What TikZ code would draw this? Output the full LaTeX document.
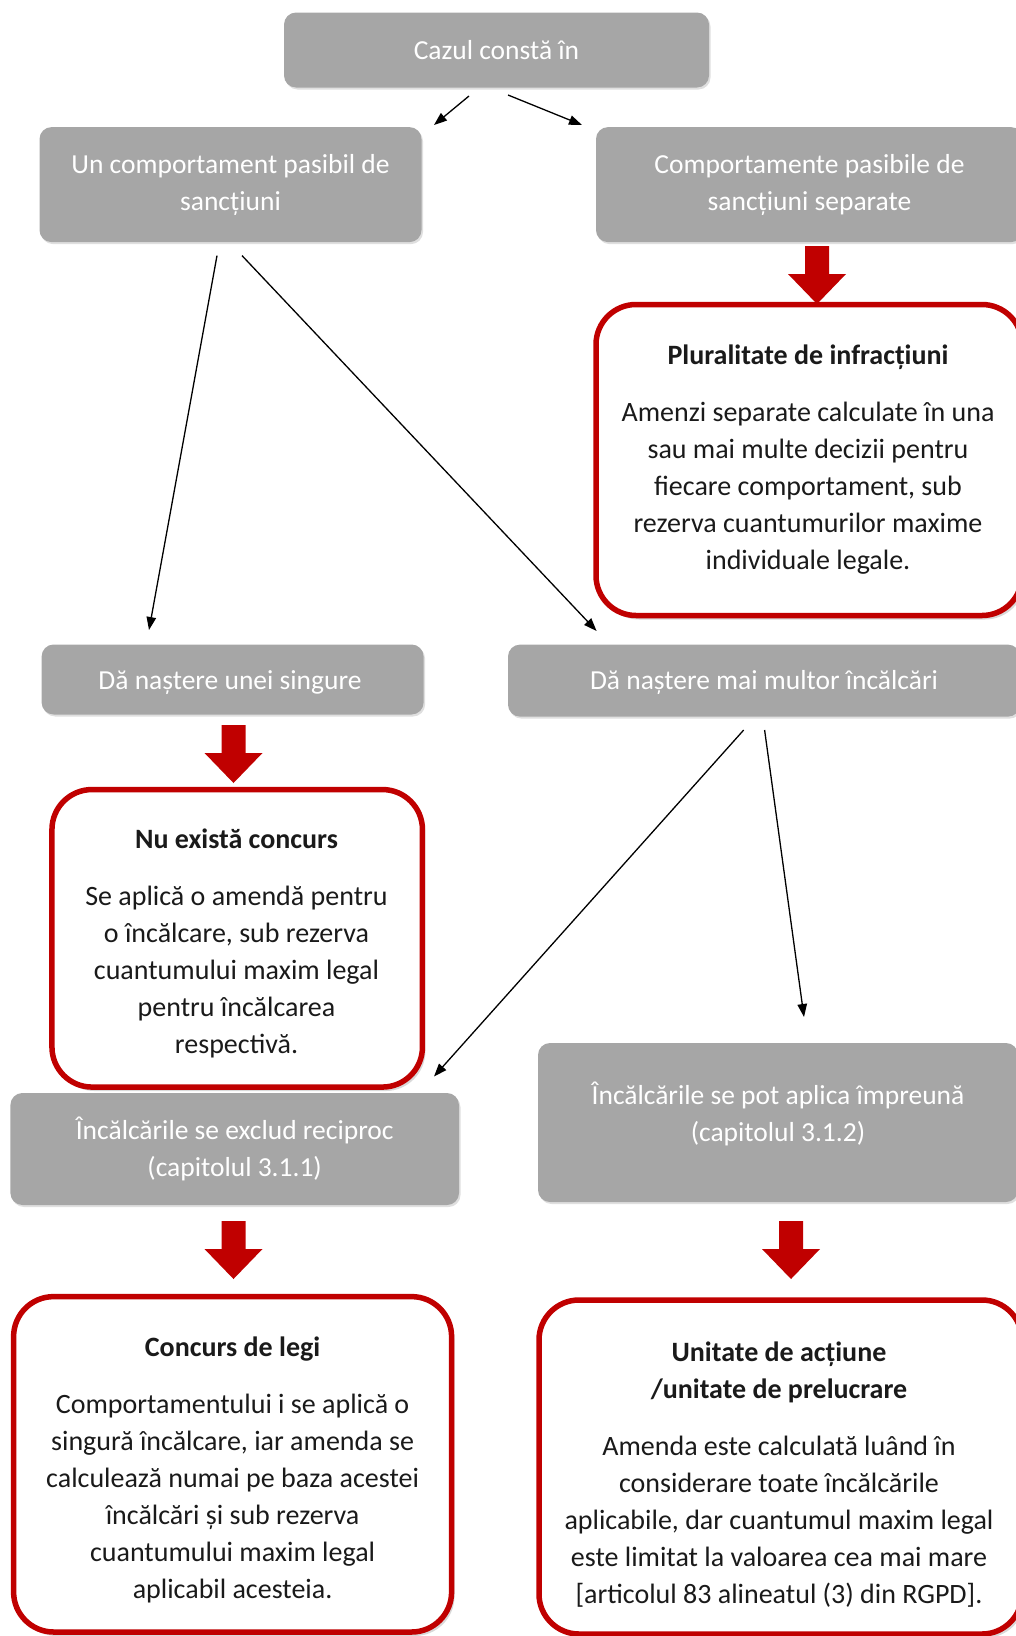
\documentclass[tikz,border=0pt]{standalone}
\usepackage{fontspec}
\setmainfont{Carlito}
\usetikzlibrary{arrows.meta,shadows}
\definecolor{boxgray}{HTML}{A6A6A6}
\definecolor{dred}{HTML}{C00000}
\definecolor{txt}{HTML}{1A1A1A}
\begin{document}
\begin{tikzpicture}[x=1pt,y=-1pt,
  graybox/.style={rectangle, rounded corners=12pt, fill=boxgray, text=white, align=center,
    font=\fontsize{27.5}{37}\selectfont, inner sep=0pt,
    drop shadow={shadow xshift=1.5pt, shadow yshift=-2pt, opacity=0.25}},
  graytext/.style={text=white, align=center, font=\fontsize{27.5}{37}\selectfont, inner sep=0pt},
  redbox/.style={rectangle, rounded corners=40pt, draw=dred, line width=5.5pt, fill=white,
    inner sep=0pt, drop shadow={shadow xshift=3pt, shadow yshift=-4pt, opacity=0.3}},
  redtext/.style={text=txt, align=center, font=\fontsize{28}{37}\selectfont, inner sep=0pt},
  conn/.style={-{Triangle[length=13pt,width=9.5pt]}, line width=1.3pt, black},
  redarr/.pic={\fill[dred] (-12,0) -- (12,0) -- (12,28) -- (29,28) -- (0,58) -- (-29,28) -- (-12,28) -- cycle;}
]
\useasboundingbox (0,0) rectangle (1016,1636);

% gray boxes
\node[graybox, minimum width=425pt, minimum height=75pt] (A) at (496.5,50) {Cazul constă în};
\node[graybox, minimum width=382pt, minimum height=115pt] (B) at (230.5,184.6) {Un comportament pasibil de\\sancțiuni};
\node[graybox, minimum width=427pt, minimum height=115pt] (C) at (809.5,184.6) {Comportamente pasibile de\\sancțiuni separate};
\node[graybox, minimum width=382pt, minimum height=70pt] (E) at (232.6,679.5) {};
\node[graytext] (Etxt) at (230,682.5) {Dă naștere unei singure};
\node[graybox, minimum width=512pt, minimum height=72pt] (F) at (764,680.6) {};
\node[graytext] (Ftxt) at (764,682.6) {Dă naștere mai multor încălcări};
\node[graybox, minimum width=448.6pt, minimum height=112pt] (H) at (234.7,1149) {Încălcările se exclud reciproc\\(capitolul 3.1.1)};
\node[graybox, minimum width=480pt, minimum height=159pt] (I) at (778,1122.5) {};
\node[graytext] (Itxt) at (778,1113.5) {Încălcările se pot aplica împreună\\(capitolul 3.1.2)};

% red boxes
\node[redbox, minimum width=426pt, minimum height=311pt] (D) at (809,460) {};
\node[redtext] (Dtxt) at (808,460)
  {\textbf{Pluralitate de infracțiuni}\\[20pt]Amenzi separate calculate în una\\sau mai multe decizii pentru\\fiecare comportament, sub\\rezerva cuantumurilor maxime\\individuale legale.};
\node[redbox, minimum width=370.5pt, minimum height=297.5pt] (G) at (237.2,938.3) {};
\node[redtext] (Gtxt) at (236.5,943)
  {\textbf{Nu există concurs}\\[20pt]Se aplică o amendă pentru\\o încălcare, sub rezerva\\cuantumului maxim legal\\pentru încălcarea\\respectivă.};
\node[redbox, minimum width=438pt, minimum height=335.4pt] (J) at (232.6,1464.3) {};
\node[redtext] (Jtxt) at (232.6,1469.5)
  {\textbf{Concurs de legi}\\[20pt]Comportamentului i se aplică o\\singură încălcare, iar amenda se\\calculează numai pe baza acestei\\încălcări și sub rezerva\\cuantumului maxim legal\\aplicabil acesteia.};
\node[redbox, minimum width=483pt, minimum height=334pt] (K) at (780.5,1467) {};
\node[redtext] (Ktxt) at (779,1475)
  {\textbf{Unitate de acțiune}\\\textbf{/unitate de prelucrare}\\[20pt]Amenda este calculată luând în\\considerare toate încălcările\\aplicabile, dar cuantumul maxim legal\\este limitat la valoarea cea mai mare\\{[}articolul 83 alineatul (3) din RGPD{]}.};

% red block arrows
\coordinate (rCD) at (817,246);
\coordinate (rEG) at (233.5,725);
\coordinate (rHJ) at (233.5,1221);
\coordinate (rIK) at (791,1221);
\pic at (rCD) {redarr};
\pic at (rEG) {redarr};
\pic at (rHJ) {redarr};
\pic at (rIK) {redarr};

% black connectors
\coordinate (a1s) at (469,96);   \coordinate (a1e) at (434,125);
\coordinate (a2s) at (508,95);   \coordinate (a2e) at (582,125);
\coordinate (b1s) at (217,255.6); \coordinate (b1e) at (149,630);
\coordinate (b2s) at (242,255.6); \coordinate (b2e) at (596.6,631);
\coordinate (f1s) at (743.7,730); \coordinate (f1e) at (434,1076.5);
\coordinate (f2s) at (764.6,730); \coordinate (f2e) at (804,1017);
\draw[conn] (a1s) -- (a1e);
\draw[conn] (a2s) -- (a2e);
\draw[conn] (b1s) -- (b1e);
\draw[conn] (b2s) -- (b2e);
\draw[conn] (f1s) -- (f1e);
\draw[conn] (f2s) -- (f2e);
\end{tikzpicture}
\end{document}
